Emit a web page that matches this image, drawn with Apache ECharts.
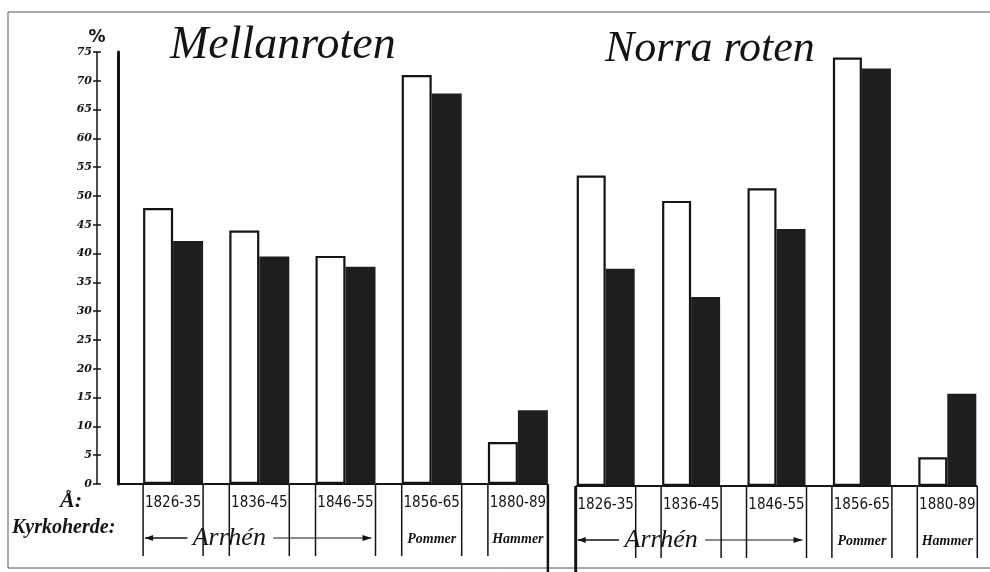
<!DOCTYPE html>
<html>
<head>
<meta charset="utf-8">
<script src="https://cdn.jsdelivr.net/npm/echarts@6/dist/echarts.min.js"></script>
<style>
  html, body { margin: 0; padding: 0; background: #fff; }
  #chart { width: 990px; height: 572px; }
</style>
</head>
<body>
<div id="chart"></div>
<script>
const years = ['1826-35', '1836-45', '1846-55', '1856-65', '1880-89']
const priests = ['Arrhén', 'Arrhén', 'Arrhén', 'Pommer', 'Hammer']
const mellanWhite = [47.9, 44.0, 39.6, 71.0, 7.3]
const mellanBlack = [42.2, 39.5, 37.7, 67.8, 12.8]
const norraWhite = [53.9, 49.5, 51.7, 74.4, 5.0]
const norraBlack = [37.7, 32.8, 44.6, 72.5, 16.0]
const yMin = 0
const yMax = 75
const yStep = 5

const ink = '#141414'
const hand = 'Liberation Serif'

const chart = echarts.init(document.getElementById('chart'))

// baseline, hanging separators and priest names under each group
const frameSeries = (xIdx, yIdx, isNorra) => ({
  type: 'custom',
  xAxisIndex: xIdx,
  yAxisIndex: yIdx,
  silent: true,
  z: 5,
  data: years.map((y, i) => [i, 0]),
  renderItem: (params, api) => {
    const i = api.value(0)
    const c = api.coord([i, 0])
    const x = c[0]
    const y = c[1]
    const last = i === years.length - 1
    const kids = []
    const lineStyle = { stroke: ink, lineWidth: 2 }
    const x0 = isNorra && i === 0 ? x - 30 : x - 56
    kids.push({ type: 'line', shape: { x1: x0, y1: y, x2: x + 30, y2: y }, style: lineStyle })
    // separators
    const leftLong = isNorra && i === 0
    const rightLong = !isNorra && last
    kids.push({
      type: 'line',
      shape: { x1: x - 30, y1: y, x2: x - 30, y2: leftLong ? y + 90 : y + 72 },
      style: { stroke: ink, lineWidth: leftLong ? 3 : 1.5 },
    })
    kids.push({
      type: 'line',
      shape: { x1: x + 30, y1: y, x2: x + 30, y2: rightLong ? y + 90 : y + 72 },
      style: { stroke: ink, lineWidth: rightLong ? 2.5 : 1.5 },
    })
    const name = priests[i]
    const runStart = priests.indexOf(name)
    const runEnd = priests.lastIndexOf(name)
    if (runEnd > runStart) {
      // a name that spans several periods: draw once, with arrows
      if (i === Math.floor((runStart + runEnd) / 2)) {
        const a = api.coord([runStart, 0])[0] - 28
        const b = api.coord([runEnd, 0])[0] + 26
        const tx = x - 30
        const ty = y + 54
        kids.push({
          type: 'text',
          style: { text: name, x: tx, y: ty, align: 'center', verticalAlign: 'middle',
            font: 'italic 26px "' + hand + '"', fill: ink },
        })
        kids.push({ type: 'line', shape: { x1: a, y1: ty, x2: tx - 42, y2: ty }, style: { stroke: ink, lineWidth: 1.5 } })
        kids.push({ type: 'line', shape: { x1: tx + 44, y1: ty, x2: b, y2: ty }, style: { stroke: ink, lineWidth: 1 } })
        kids.push({ type: 'polygon', shape: { points: [[a, ty], [a + 8, ty - 3], [a + 8, ty + 3]] }, style: { fill: ink } })
        kids.push({ type: 'polygon', shape: { points: [[b, ty], [b - 9, ty - 3], [b - 9, ty + 3]] }, style: { fill: ink } })
      }
    } else {
      kids.push({
        type: 'text',
        style: { text: name, x: x, y: y + 55, align: 'center', verticalAlign: 'middle',
          font: 'italic bold 14px "' + hand + '"', fill: ink },
      })
    }
    return { type: 'group', children: kids }
  },
})

const xAxisBase = (gridIndex) => ({
  type: 'category',
  gridIndex: gridIndex,
  data: years,
  axisLine: { show: false },
  axisTick: { show: false },
  axisLabel: {
    margin: 12,
    color: ink,
    fontSize: 15,
    fontFamily: 'DejaVu Sans Condensed',
  },
  splitLine: { show: false },
})

const option = {
  animation: false,
  backgroundColor: '#fff',
  title: [
    {
      text: 'Mellanroten',
      left: 165,
      top: 18,
      textStyle: { fontFamily: hand, fontStyle: 'italic', fontWeight: 'normal', fontSize: 46, color: ink },
    },
    {
      text: 'Norra roten',
      left: 600,
      top: 22,
      textStyle: { fontFamily: hand, fontStyle: 'italic', fontWeight: 'normal', fontSize: 44, color: ink },
    },
  ],
  graphic: [
    {
      type: 'rect',
      silent: true,
      shape: { x: 8, y: 12, width: 1000, height: 556 },
      style: { fill: 'none', stroke: '#555', lineWidth: 1 },
    },
    {
      type: 'text',
      left: 60,
      top: 490,
      style: { text: 'Å:', font: 'italic bold 22px "' + hand + '"', fill: ink },
    },
    {
      type: 'text',
      left: 12,
      top: 518,
      style: { text: 'Kyrkoherde:', font: 'italic bold 20px "' + hand + '"', fill: ink },
    },
  ],
  grid: [
    { left: 130, width: 431, top: 52, height: 432 },
    { left: 563, width: 428, top: 54, height: 432 },
  ],
  xAxis: [xAxisBase(0), xAxisBase(1)],
  yAxis: [
    {
      gridIndex: 0,
      type: 'value',
      position: 'left',
      min: yMin,
      max: yMax,
      interval: yStep,
      offset: 33,
      name: '%',
      nameGap: 6,
      nameTextStyle: { color: ink, fontSize: 17, fontWeight: 'bold', fontFamily: 'DejaVu Sans' },
      axisLine: { show: true, lineStyle: { color: ink, width: 1.5 } },
      axisTick: { show: true, length: 4, lineStyle: { color: ink, width: 1.5 } },
      axisLabel: {
        margin: 5,
        color: ink,
        fontSize: 11,
        fontStyle: 'italic',
        fontWeight: 'bold',
        fontFamily: 'DejaVu Serif',
      },
      splitLine: { show: false },
    },
    {
      gridIndex: 0,
      type: 'value',
      position: 'left',
      min: yMin,
      max: yMax,
      interval: yStep,
      offset: 33,
      axisLine: { show: false },
      axisTick: { show: true, inside: true, length: 4, lineStyle: { color: ink, width: 1.5 } },
      axisLabel: { show: false },
      splitLine: { show: false },
    },
    {
      gridIndex: 0,
      type: 'value',
      position: 'left',
      min: yMin,
      max: yMax,
      offset: 12,
      axisLine: { show: true, lineStyle: { color: ink, width: 3 } },
      axisTick: { show: false },
      axisLabel: { show: false },
      splitLine: { show: false },
    },
    {
      gridIndex: 1,
      type: 'value',
      position: 'left',
      min: yMin,
      max: yMax,
      show: false,
      splitLine: { show: false },
    },
  ],
  series: [
    {
      name: 'Mellanroten vit',
      type: 'bar',
      xAxisIndex: 0,
      yAxisIndex: 0,
      data: mellanWhite,
      barWidth: 30,
      barGap: '0%',
      itemStyle: { color: '#fff', borderColor: ink, borderWidth: 2.2 },
    },
    {
      name: 'Mellanroten svart',
      type: 'bar',
      xAxisIndex: 0,
      yAxisIndex: 0,
      data: mellanBlack,
      barWidth: 30,
      barGap: '0%',
      itemStyle: { color: '#1e1e1e' },
    },
    {
      name: 'Norra roten vit',
      type: 'bar',
      xAxisIndex: 1,
      yAxisIndex: 3,
      data: norraWhite,
      barWidth: 29,
      barGap: '0%',
      itemStyle: { color: '#fff', borderColor: ink, borderWidth: 2.2 },
    },
    {
      name: 'Norra roten svart',
      type: 'bar',
      xAxisIndex: 1,
      yAxisIndex: 3,
      data: norraBlack,
      barWidth: 29,
      barGap: '0%',
      itemStyle: { color: '#1e1e1e' },
    },
    frameSeries(0, 0, false),
    frameSeries(1, 3, true),
  ],
}

chart.setOption(option)
</script>
</body>
</html>
